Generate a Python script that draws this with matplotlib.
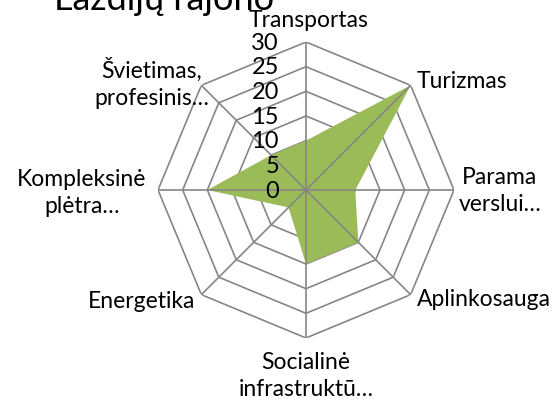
import numpy as np
import matplotlib
matplotlib.use('Agg')
import matplotlib.pyplot as plt

plt.rcParams['font.family'] = ['Lato', 'DejaVu Sans']

# data
title = 'Lazdijų rajono'
categories = ['Transportas', 'Turizmas', 'Parama\nverslui…', 'Aplinkosauga',
              'Socialinė\ninfrastruktū…', 'Energetika', 'Kompleksinė\nplėtra…',
              'Švietimas,\nprofesinis…']
values = [10, 30, 10, 15, 15, 5, 20, 10]
r_ticks = [0, 5, 10, 15, 20, 25, 30]

# label placement (pixel offsets from the outer vertex)
label_offsets = [(3, 23), (6, 5), (46, 0), (6, -4), (0, -37), (-6, -6), (-76, -2), (-50, 3)]
label_ha = ['center', 'left', 'center', 'left', 'center', 'right', 'center', 'center']

W, H = 560, 406
cx, cy, rad = 306, 191, 148
grid_color = '#868686'
fill_color = '#9BBB59'
fs = 16.5

fig = plt.figure(figsize=(W / 100, H / 100), dpi=100)
ax = fig.add_axes([(cx - rad) / W, (H - cy - rad) / H, 2 * rad / W, 2 * rad / H], polar=True)
ax.set_theta_zero_location('N')
ax.set_theta_direction(-1)
ax.set_ylim(0, 30)
ax.grid(False)
ax.spines['polar'].set_visible(False)
ax.set_xticks([])
ax.set_yticks([])
ax.patch.set_alpha(0)

n = len(categories)
theta = np.linspace(0, 2 * np.pi, n, endpoint=False)
theta_c = np.append(theta, theta[0])

# polygon rings
for r in r_ticks[1:]:
    ax.plot(theta_c, [r] * (n + 1), color=grid_color, lw=1.2, zorder=1)

# data area
ax.fill(theta_c, values + values[:1], color=fill_color, lw=0, zorder=2)

# spokes
for t in theta:
    ax.plot([t, t], [0, r_ticks[-1]], color=grid_color, lw=1.2, zorder=3)

# radial tick labels
for r in r_ticks:
    ax.annotate(str(r), xy=(0, r), xytext=(-27 * 0.72, 0), textcoords='offset points',
                ha='right', va='center', fontsize=17, zorder=4)

# category labels
for t, lab, (dx, dy), ha in zip(theta, categories, label_offsets, label_ha):
    ax.annotate(lab, xy=(t, r_ticks[-1]), xytext=(dx * 0.72, dy * 0.72), textcoords='offset points',
                ha=ha, va='center', multialignment='center', fontsize=fs, linespacing=1.4,
                annotation_clip=False)

fig.text(164 / W, 1 - 10 / H, title, ha='center', va='baseline', fontsize=26)

fig.savefig('out.png', dpi=100)
